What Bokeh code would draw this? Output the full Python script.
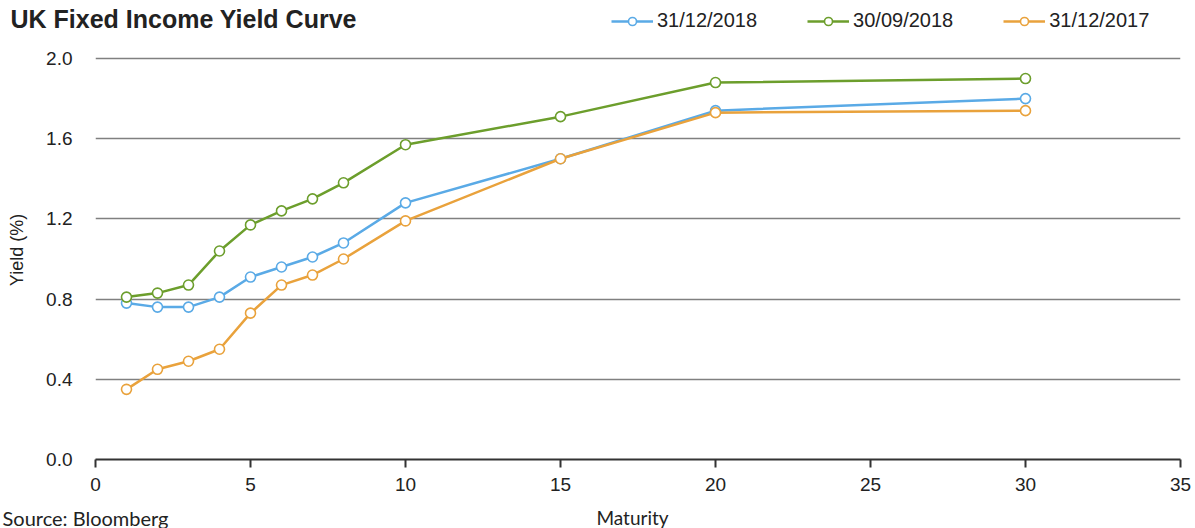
from bokeh.plotting import figure
from bokeh.layouts import column, row
from bokeh.models import (Range1d, FixedTicker, PrintfTickFormatter,
                          Legend, LegendItem, Label)
from bokeh.embed import file_html
from bokeh.resources import INLINE

# ---- data ----
maturity = [1, 2, 3, 4, 5, 6, 7, 8, 10, 15, 20, 30]
yield_2018_12 = [0.78, 0.76, 0.76, 0.81, 0.91, 0.96, 1.01, 1.08, 1.28, 1.50, 1.74, 1.80]
yield_2018_09 = [0.81, 0.83, 0.87, 1.04, 1.17, 1.24, 1.30, 1.38, 1.57, 1.71, 1.88, 1.90]
yield_2017_12 = [0.35, 0.45, 0.49, 0.55, 0.73, 0.87, 0.92, 1.00, 1.19, 1.50, 1.73, 1.74]
series_names = ["31/12/2018", "30/09/2018", "31/12/2017"]
series_colors = ["#5aaae6", "#6c9e2c", "#e9a23c"]
y_ticks = [0.0, 0.4, 0.8, 1.2, 1.6, 2.0]
x_ticks = [0, 5, 10, 15, 20, 25, 30, 35]
title_text = "UK Fixed Income Yield Curve"
source_text = "Source: Bloomberg"
x_label = "Maturity"
y_label = "Yield (%)"

FONT = "Liberation Sans"
TXT = "#222222"
W = 1195
series_values = [yield_2018_12, yield_2018_09, yield_2017_12]


def bare(height):
    f = figure(width=W, height=height, output_backend="svg", toolbar_location=None,
               x_axis_type=None, y_axis_type=None,
               x_range=Range1d(0, W), y_range=Range1d(0, height),
               min_border=0, min_border_left=0, min_border_right=0,
               min_border_top=0, min_border_bottom=0)
    f.outline_line_color = None
    f.xgrid.grid_line_color = None
    f.ygrid.grid_line_color = None
    return f


# ---- header: title + legend ----
head = bare(40)
head.add_layout(Label(x=10, y=22, x_units="screen", y_units="screen",
                      text=title_text, text_font=FONT, text_font_size="25px",
                      text_font_style="bold", text_color=TXT,
                      text_baseline="middle"))
items = []
for name, color, ys in zip(series_names, series_colors, series_values):
    rl = head.line(maturity, ys, line_color=color, line_width=2.5, visible=False)
    rs = head.scatter(maturity, ys, marker="circle", size=10, fill_color="white",
                      line_color=color, line_width=1.6, visible=False)
    items.append(LegendItem(label=name, renderers=[rl, rs]))
legend = Legend(items=items, orientation="horizontal", location=(611, 8),
                border_line_color=None, background_fill_alpha=0,
                inactive_fill_alpha=0,
                label_text_font=FONT, label_text_font_size="20px",
                label_text_color=TXT, glyph_width=42, glyph_height=20,
                label_standoff=4, spacing=50, padding=0, margin=0)
head.add_layout(legend, "center")

# ---- main chart ----
p = figure(width=W, height=462, output_backend="svg", toolbar_location=None,
           x_range=Range1d(0, 35), y_range=Range1d(0, 2.0898),
           min_border_left=95, min_border_right=15, min_border_top=0,
           min_border_bottom=43)
p.outline_line_color = None

p.xaxis.ticker = FixedTicker(ticks=x_ticks)
p.xaxis.axis_line_color = "#333333"
p.xaxis.axis_line_width = 2
p.xaxis.major_tick_line_color = "#333333"
p.xaxis.major_tick_line_width = 2
p.xaxis.major_tick_out = 8
p.xaxis.major_tick_in = 0
p.xaxis.minor_tick_line_color = None
p.xaxis.major_label_text_font = FONT
p.xaxis.major_label_text_font_size = "19px"
p.xaxis.major_label_text_color = TXT
p.xaxis.major_label_standoff = 10

p.yaxis.ticker = FixedTicker(ticks=y_ticks)
p.yaxis.formatter = PrintfTickFormatter(format="%.1f")
p.yaxis.axis_line_color = None
p.yaxis.major_tick_line_color = None
p.yaxis.minor_tick_line_color = None
p.yaxis.major_label_text_font = FONT
p.yaxis.major_label_text_font_size = "19px"
p.yaxis.major_label_text_color = TXT
p.yaxis.major_label_standoff = 17
p.yaxis.axis_label = y_label
p.yaxis.axis_label_text_font = FONT
p.yaxis.axis_label_text_font_size = "18px"
p.yaxis.axis_label_text_font_style = "normal"
p.yaxis.axis_label_text_color = TXT
p.yaxis.axis_label_standoff = 16

p.xgrid.grid_line_color = None
p.ygrid.ticker = FixedTicker(ticks=y_ticks[1:])
p.ygrid.grid_line_color = "#808080"
p.ygrid.grid_line_width = 1.5

for color, ys in zip(series_colors, series_values):
    p.line(maturity, ys, line_color=color, line_width=2.5)
    p.scatter(maturity, ys, marker="circle", size=10, fill_color="white",
              line_color=color, line_width=1.6)

# ---- footer: source + x axis title ----
foot = bare(26)
foot.add_layout(Label(x=2, y=11, x_units="screen", y_units="screen",
                      text=source_text, text_font="Lato", text_font_size="20px",
                      text_color=TXT, text_baseline="middle"))
foot.add_layout(Label(x=632, y=11, x_units="screen", y_units="screen",
                      text=x_label, text_font="Lato", text_font_size="19px",
                      text_color=TXT, text_baseline="middle", text_align="center"))

layout = column(row(head), p, row(foot), spacing=0)
open("out.html", "w").write(file_html(layout, INLINE))
